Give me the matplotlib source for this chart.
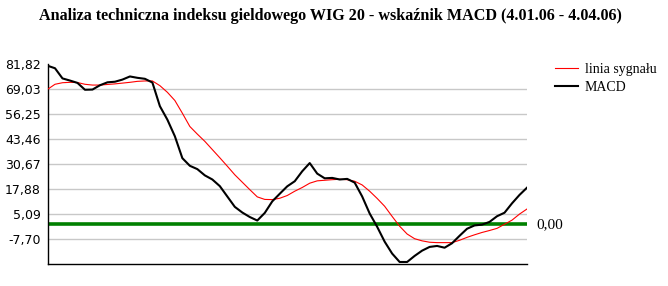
import numpy as np
import matplotlib
matplotlib.use('Agg')
import matplotlib.pyplot as plt

# MACD dla WIG 20, notowania dzienne 4.01.06 - 4.04.06
macd = [81.1, 79.8, 74.6, 73.5, 72.3, 68.8, 68.9, 71.1, 72.6, 72.9,
        74.0, 75.6, 74.9, 74.4, 72.5, 60.4, 53.5, 45.0, 33.8, 29.9,
        28.2, 25.0, 22.9, 19.5, 14.2, 8.9, 6.0, 3.7, 1.9, 5.8,
        11.7, 15.6, 19.4, 22.0, 27.1, 31.3, 25.9, 23.5, 23.7, 22.9,
        23.2, 21.3, 14.2, 5.5, -1.3, -8.9, -15.0, -19.3, -19.3, -16.2,
        -13.5, -11.6, -11.1, -12.0, -9.7, -5.9, -2.3, -0.6, -0.2, 1.2,
        4.1, 5.9, 10.7, 15.0, 18.7]
sygnal = [69.0, 71.6, 72.4, 72.6, 72.5, 71.6, 71.2, 71.2, 71.5, 71.8,
          72.2, 72.6, 73.1, 73.3, 73.3, 70.9, 67.5, 63.3, 56.8, 50.0,
          46.1, 42.4, 38.2, 34.0, 29.7, 25.3, 21.5, 17.7, 14.0, 12.7,
          12.6, 13.3, 14.7, 16.9, 18.8, 21.0, 22.2, 22.5, 22.8, 23.0,
          22.8, 22.0, 20.1, 16.9, 13.2, 9.2, 4.0, -1.0, -5.0, -7.4,
          -8.5, -9.2, -9.4, -9.4, -9.4, -8.2, -6.7, -5.4, -4.2, -3.2,
          -2.1, 0.0, 2.1, 5.2, 7.8]
yticks = [81.82, 69.03, 56.25, 43.46, 30.67, 17.88, 5.09, -7.70]
ymin = -20.49
poziom = 0.0

dni = np.arange(len(macd))

fig = plt.figure(figsize=(6.68, 2.86), dpi=100)
W, H = 668, 286
ax = fig.add_axes([47.5 / W, 1 - 264.3 / H, (527 - 47.5) / W, (264.3 - 64.3) / H])

for t in yticks[1:]:
    ax.axhline(t, color='#c8c8c8', lw=1.0, zorder=1)
ax.axhline(poziom, color='#008000', lw=2.6, zorder=2)
ax.plot(dni, sygnal, color='#ff0000', lw=0.8, zorder=3, label='linia sygnału')
ax.plot(dni, macd, color='black', lw=1.5, zorder=4, label='MACD')

ax.set_xlim(0, len(macd) - 1)
ax.set_ylim(ymin, yticks[0])
ax.set_yticks(yticks)
ax.set_yticklabels([('%.2f' % t).replace('.', ',') for t in yticks],
                   family='DejaVu Sans', fontsize=9)
ax.tick_params(axis='y', length=0, pad=5)
ax.set_xticks([])
for s in ['top', 'right']:
    ax.spines[s].set_visible(False)
ax.spines['left'].set_linewidth(1.0)
ax.spines['bottom'].set_linewidth(1.0)

ax.text(1.02, poziom, ('%.2f' % poziom).replace('.', ','), transform=ax.get_yaxis_transform(),
        va='center', ha='left', family='Liberation Serif', fontsize=11)

leg = ax.legend(loc='upper left', bbox_to_anchor=(555 / W, 1 - 63 / H), bbox_transform=fig.transFigure,
                frameon=False, prop={'family': 'Liberation Serif', 'size': 10},
                handlelength=1.65, handletextpad=0.5, labelspacing=0.35, borderpad=0,
                borderaxespad=0)

fig.text(0.495, 1 - 16 / H, 'Analiza techniczna indeksu gieldowego WIG 20 - wskaźnik MACD (4.01.06 - 4.04.06)',
         ha='center', va='center', family='Liberation Serif', fontweight='bold', fontsize=11.6)

fig.savefig('out.png', dpi=100)
